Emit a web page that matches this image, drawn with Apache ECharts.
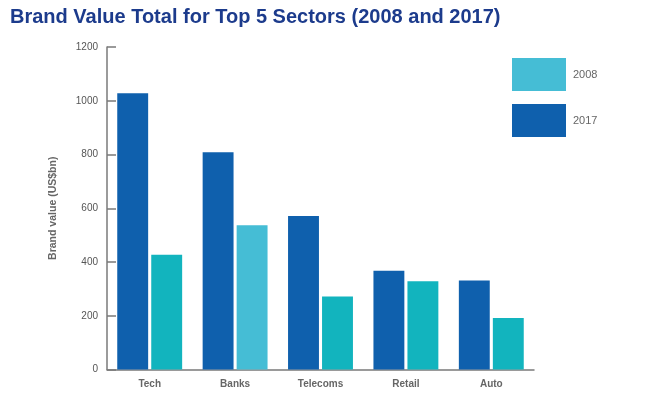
<!DOCTYPE html>
<html>
<head>
<meta charset="utf-8">
<script src="https://cdn.jsdelivr.net/npm/echarts@6/dist/echarts.min.js"></script>
<style>html,body{margin:0;padding:0;background:#fff}#c{width:664px;height:400px}</style>
</head>
<body>
<div id="c"></div>
<script>
var categories = ['Tech', 'Banks', 'Telecoms', 'Retail', 'Auto'];
var values2017 = [1028, 808, 571, 367, 331];
var values2008 = [427, 537, 272, 328, 192];
var yTicks = [0, 200, 400, 600, 800, 1000, 1200];

var C2017 = '#0f60ad';
var C2008 = '#45bdd5';
var C2008bar = '#12b4be';
var colors2008 = [C2008bar, C2008, C2008bar, C2008bar, C2008bar];

var chart = echarts.init(document.getElementById('c'), null, {renderer: 'canvas'});
var axisGray = '#7a7a7a';
chart.setOption({
  animation: false,
  backgroundColor: '#ffffff',
  title: {
    text: 'Brand Value Total for Top 5 Sectors (2008 and 2017)',
    left: 10, top: 7,
    padding: 0,
    textStyle: {fontFamily: 'Liberation Sans, Arial, sans-serif', fontSize: 20, fontWeight: 'bold', color: '#1c3b8c'}
  },
  legend: {
    data: ['2008', '2017'],
    orient: 'vertical',
    left: 512, top: 58,
    padding: 0,
    itemWidth: 54, itemHeight: 33, itemGap: 13,
    icon: 'rect',
    textStyle: {fontFamily: 'Liberation Sans, Arial, sans-serif', fontSize: 11, color: '#666', padding: [0, 0, 0, 2]}
  },
  grid: {left: 107, right: 130, top: 47, bottom: 30.5, containLabel: false},
  xAxis: {
    type: 'category',
    data: categories,
    axisLine: {lineStyle: {color: axisGray, width: 1.5}},
    axisTick: {inside: true, length: 8, interval: 0, lineStyle: {color: axisGray, width: 1.5}},
    axisLabel: {margin: 10, fontFamily: 'Liberation Sans, Arial, sans-serif', fontSize: 10, fontWeight: 'bold', color: '#666'}
  },
  yAxis: {
    type: 'value',
    min: yTicks[0], max: yTicks[yTicks.length - 1], interval: 200,
    name: 'Brand value (US$bn)',
    nameLocation: 'middle',
    nameGap: 48,
    nameTextStyle: {fontFamily: 'Liberation Sans, Arial, sans-serif', fontSize: 10.5, fontWeight: 'bold', color: '#666'},
    axisLine: {show: true, lineStyle: {color: axisGray, width: 1.5}},
    axisTick: {show: true, inside: true, length: 9, lineStyle: {color: axisGray, width: 1.5}},
    splitLine: {show: false},
    axisLabel: {margin: 9, fontFamily: 'Liberation Sans, Arial, sans-serif', fontSize: 10, color: '#555',
      formatter: function (v) { return String(v); }}
  },
  series: [
    {
      name: '2017', type: 'bar',
      data: values2017,
      itemStyle: {color: C2017},
      barCategoryGap: '24%', barGap: '10%'
    },
    {
      name: '2008', type: 'bar',
      data: values2008.map(function (v, i) { return {value: v, itemStyle: {color: colors2008[i]}}; }),
      itemStyle: {color: C2008},
      barCategoryGap: '24%', barGap: '10%'
    }
  ]
});
</script>
</body>
</html>
